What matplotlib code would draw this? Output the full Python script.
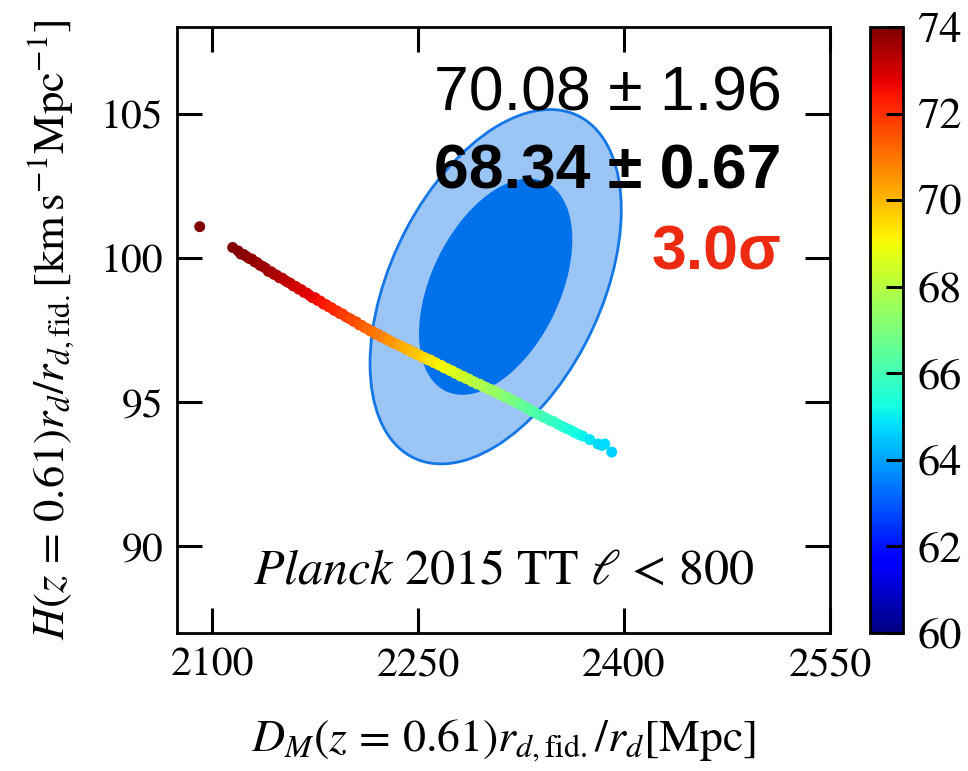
import numpy as np
import matplotlib
matplotlib.use("Agg")
import matplotlib.pyplot as plt
from matplotlib.patches import Ellipse

plt.rcParams['font.family'] = ['STIXGeneral', 'DejaVu Serif']
plt.rcParams['mathtext.fontset'] = 'stix'

# ---- data ----
xlim = (2074.5, 2550)
ylim = (87.0, 108.0)
xticks = [2100, 2250, 2400, 2550]
yticks = [90, 95, 100, 105]
cticks = [60, 62, 64, 66, 68, 70, 72, 74]

# BAO constraint (Gaussian): centre, sigmas, correlation, 68/95% chi2 levels
bao_center = (2306.5, 99.0)
bao_sigma = (36.8, 2.47)
bao_rho = 0.434
chi2_levels = [6.18, 2.30]

# Planck chain samples: D_M, H, H0
dm = [2091, 2115, 2119, 2121, 2123, 2125, 2127, 2129, 2131, 2133, 2135, 2137, 2139,
      2141, 2143, 2145, 2147, 2149, 2151, 2153, 2155, 2157, 2159, 2161, 2163, 2165,
      2167, 2169, 2171, 2173, 2175, 2177, 2179, 2181, 2183, 2185, 2187, 2189, 2191,
      2193, 2195, 2197, 2199, 2201, 2203, 2205, 2207, 2209, 2211, 2213, 2215, 2217,
      2219, 2221, 2223, 2225, 2227, 2229, 2231, 2233, 2235, 2237, 2239, 2241, 2243,
      2245, 2247, 2249, 2251, 2253, 2255, 2257, 2259, 2261, 2263, 2265, 2267, 2269,
      2271, 2273, 2275, 2277, 2279, 2281, 2283, 2285, 2287, 2289, 2291, 2293, 2295,
      2297, 2299, 2301, 2303, 2305, 2307, 2309, 2311, 2313, 2315, 2317, 2319, 2321,
      2323, 2325, 2327, 2329, 2331, 2333, 2335, 2337, 2339, 2341, 2343, 2346, 2349,
      2352, 2355, 2358, 2361, 2364, 2367, 2370, 2375, 2381, 2384, 2386, 2391]
hz = [101.08, 100.36, 100.24, 100.13, 100.12, 100.05, 99.98, 99.96, 99.86, 99.83, 99.74,
      99.70, 99.64, 99.53, 99.52, 99.43, 99.40, 99.31, 99.30, 99.22, 99.16, 99.12, 99.03,
      99.01, 98.92, 98.90, 98.80, 98.78, 98.70, 98.62, 98.62, 98.52, 98.50, 98.40, 98.38,
      98.30, 98.27, 98.18, 98.16, 98.07, 98.06, 97.97, 97.92, 97.88, 97.80, 97.78, 97.68,
      97.66, 97.58, 97.55, 97.47, 97.45, 97.36, 97.35, 97.26, 97.25, 97.17, 97.14, 97.08,
      97.03, 97.00, 96.94, 96.91, 96.84, 96.82, 96.74, 96.73, 96.65, 96.63, 96.56, 96.54,
      96.47, 96.46, 96.38, 96.36, 96.29, 96.27, 96.19, 96.17, 96.10, 96.08, 96.00, 95.98,
      95.90, 95.89, 95.82, 95.80, 95.72, 95.70, 95.63, 95.62, 95.55, 95.52, 95.46, 95.44,
      95.37, 95.35, 95.28, 95.25, 95.18, 95.16, 95.09, 95.06, 95.00, 94.96, 94.90, 94.86,
      94.79, 94.76, 94.68, 94.65, 94.58, 94.55, 94.48, 94.45, 94.37, 94.32, 94.23, 94.16,
      94.09, 94.03, 93.95, 93.88, 93.82, 93.70, 93.55, 93.50, 93.55, 93.27]
h0 = [74.0, 74.0, 73.9, 73.9, 73.8, 73.9, 73.8, 73.7, 73.8, 73.7, 73.7, 73.6, 73.6,
      73.6, 73.5, 73.5, 73.4, 73.4, 73.3, 73.3, 73.2, 73.2, 73.1, 73.0, 73.0, 72.9,
      72.9, 72.8, 72.8, 72.7, 72.7, 72.6, 72.5, 72.5, 72.4, 72.3, 72.2, 72.2, 72.1,
      72.0, 71.9, 71.9, 71.8, 71.7, 71.6, 71.6, 71.5, 71.4, 71.3, 71.2, 71.2, 71.1,
      71.0, 70.9, 70.9, 70.8, 70.7, 70.6, 70.5, 70.5, 70.4, 70.3, 70.2, 70.1, 70.1,
      70.0, 69.9, 69.8, 69.8, 69.7, 69.6, 69.5, 69.4, 69.3, 69.3, 69.2, 69.1, 69.0,
      69.0, 68.9, 68.8, 68.7, 68.6, 68.5, 68.5, 68.4, 68.3, 68.2, 68.1, 68.0, 67.9,
      67.9, 67.8, 67.7, 67.6, 67.5, 67.5, 67.4, 67.3, 67.2, 67.1, 67.0, 67.0, 66.9,
      66.8, 66.7, 66.6, 66.6, 66.5, 66.4, 66.3, 66.2, 66.2, 66.1, 66.0, 65.9, 65.8,
      65.7, 65.6, 65.5, 65.4, 65.3, 65.2, 65.1, 64.9, 64.8, 64.7, 64.8, 64.6]

fig = plt.figure(figsize=(9.68, 7.71), dpi=100)
ax = fig.add_axes([0.1829, 0.179, 0.6746, 0.786])

# ellipses from covariance
sx, sy = bao_sigma
cov = np.array([[sx**2, bao_rho*sx*sy], [bao_rho*sx*sy, sy**2]])
vals, vecs = np.linalg.eigh(cov)
ang = np.degrees(np.arctan2(vecs[1, 1], vecs[0, 1]))
styles = [dict(facecolor='#9bc5f5', edgecolor='#1577e6', lw=2.0),
          dict(facecolor='#0070eb', edgecolor='none', lw=0)]
for lev, st in zip(chi2_levels, styles):
    w = 2*np.sqrt(lev*vals[1])
    h = 2*np.sqrt(lev*vals[0])
    ax.add_patch(Ellipse(bao_center, w, h, angle=ang, zorder=1, **st))

sc = ax.scatter(dm, hz, c=h0, cmap='jet', vmin=60, vmax=74, s=62,
                edgecolors='none', zorder=3)

ax.set_xlim(*xlim)
ax.set_ylim(*ylim)
ax.set_xticks(xticks)
ax.set_yticks(yticks)
ax.tick_params(direction='in', length=18, width=2.2, top=True, right=True,
               labelsize=30, pad=10)
for sp in ax.spines.values():
    sp.set_linewidth(2)

ax.set_xlabel(r'$D_M(z\,=\,0.61)r_{d,\mathrm{fid.}}/r_d[\mathrm{Mpc}]$', fontsize=33, labelpad=24)
ax.set_ylabel(r'$H(z\,=\,0.61)r_d/r_{d,\mathrm{fid.}}[\mathrm{km\,s^{-1}Mpc^{-1}}]$', fontsize=32,
              labelpad=18)

sans = ['Liberation Sans', 'DejaVu Sans']
ax.text(0.926, 0.863, '70.08 ± 1.96', transform=ax.transAxes, ha='right',
        va='baseline', fontsize=45, family=sans, zorder=5)
ax.text(0.926, 0.734, '68.34 ± 0.67', transform=ax.transAxes, ha='right',
        va='baseline', fontsize=45, family=sans, fontweight='bold', zorder=5)
ax.text(0.926, 0.599, '3.0σ', transform=ax.transAxes, ha='right',
        va='baseline', fontsize=45, family=sans, fontweight='bold',
        color='#ec2a12', zorder=5)
ax.text(0.5, 0.1, r'$\it{Planck}$ 2015 TT $\ell$ < 800', transform=ax.transAxes,
        ha='center', va='center', fontsize=36, zorder=5)

cax = fig.add_axes([0.899, 0.179, 0.034, 0.786])
cb = fig.colorbar(sc, cax=cax, ticks=cticks)
cb.ax.tick_params(direction='in', length=12, width=2.2, labelsize=32, pad=10)
cb.outline.set_linewidth(2)

fig.savefig('out.png', dpi=100)
